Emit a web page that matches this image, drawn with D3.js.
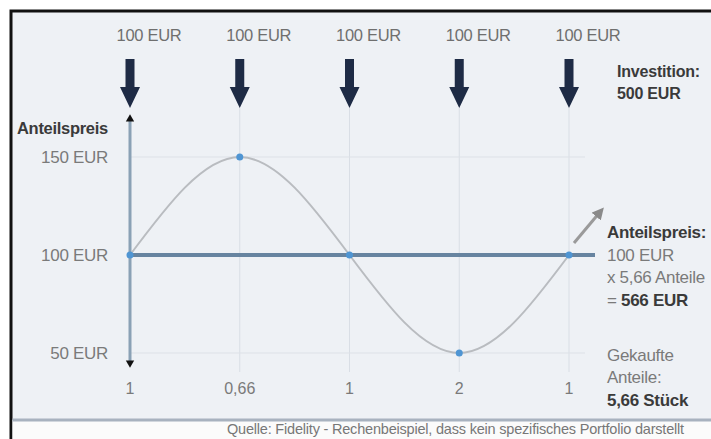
<!DOCTYPE html>
<html>
<head>
<meta charset="utf-8">
<script src="https://cdn.jsdelivr.net/npm/d3@7"></script>
<style>
  body { margin: 0; background: #fff; }
  text { font-family: 'Liberation Sans', Arial, sans-serif; }
</style>
</head>
<body>
<div id="chart"></div>
<script>
// data
const steps = [0, 1, 2, 3, 4];
const prices = [100, 150, 100, 50, 100];
const shares = ['1', '0,66', '1', '2', '1'];
const investLabels = ['100 EUR', '100 EUR', '100 EUR', '100 EUR', '100 EUR'];
const yTicks = [50, 100, 150];
const avgPrice = 100;

CostChart = function(_parentElement){
  this.parentElement = _parentElement;

  this.initVis();
};

CostChart.prototype.initVis = function(){
  let vis = this;

  vis.svg = d3.select(vis.parentElement)
    .append('svg')
    .attr('width', 711)
    .attr('height', 439);

  // panel background + frame
  vis.svg.append('rect')
    .attr('x', 11).attr('y', 11)
    .attr('width', 720).attr('height', 440)
    .attr('fill', '#eef1f5')
    .attr('stroke', '#111')
    .attr('stroke-width', 3);

  vis.svg.append('rect')
    .attr('x', 12.5).attr('y', 420)
    .attr('width', 720).attr('height', 30)
    .attr('fill', '#fbfbfb');

  vis.svg.append('line')
    .attr('x1', 12.5).attr('x2', 711)
    .attr('y1', 420).attr('y2', 420)
    .attr('stroke', '#a8b2bf')
    .attr('stroke-width', 3);

  vis.x = d3.scalePoint()
    .domain(steps)
    .range([130, 569]);

  vis.y = d3.scaleLinear()
    .domain([50, 150])
    .range([353, 157]);

  // vertical grid
  vis.svg.selectAll('.vgrid')
    .data(steps.slice(1))
    .enter()
    .append('line')
    .attr('class', 'vgrid')
    .attr('x1', d => vis.x(d)).attr('x2', d => vis.x(d))
    .attr('y1', 108).attr('y2', 372)
    .attr('stroke', '#d9dee5')
    .attr('stroke-width', 1);

  // horizontal grid
  vis.svg.selectAll('.hgrid')
    .data([50, 150])
    .enter()
    .append('line')
    .attr('class', 'hgrid')
    .attr('x1', 130).attr('x2', 585)
    .attr('y1', d => vis.y(d)).attr('y2', d => vis.y(d))
    .attr('stroke', '#dde1e7')
    .attr('stroke-width', 1);

  // y axis line with arrow tips
  vis.svg.append('line')
    .attr('x1', vis.x(0)).attr('x2', vis.x(0))
    .attr('y1', 120).attr('y2', 362)
    .attr('stroke', '#8aa1b5')
    .attr('stroke-width', 3);

  vis.svg.append('path')
    .attr('d', d3.symbol().type(d3.symbolTriangle).size(30)())
    .attr('transform', 'translate(' + vis.x(0) + ',119)')
    .attr('fill', '#111');

  vis.svg.append('path')
    .attr('d', d3.symbol().type(d3.symbolTriangle).size(30)())
    .attr('transform', 'translate(' + vis.x(0) + ',363) rotate(180)')
    .attr('fill', '#111');

  // average price line
  vis.svg.append('line')
    .attr('x1', vis.x(0)).attr('x2', 595)
    .attr('y1', vis.y(avgPrice)).attr('y2', vis.y(avgPrice))
    .attr('stroke', '#6784a0')
    .attr('stroke-width', 4);

  // price curve
  vis.line = d3.line()
    .x((d, i) => vis.x(steps[i]))
    .y(d => vis.y(d))
    .curve(d3.curveNatural);

  vis.svg.append('path')
    .datum(prices)
    .attr('d', vis.line)
    .attr('fill', 'none')
    .attr('stroke', '#b9bcc0')
    .attr('stroke-width', 2);

  vis.svg.selectAll('.dot')
    .data(prices)
    .enter()
    .append('circle')
    .attr('class', 'dot')
    .attr('cx', (d, i) => vis.x(steps[i]))
    .attr('cy', d => vis.y(d))
    .attr('r', 3.5)
    .attr('fill', '#4f95d3');

  // y tick labels
  vis.svg.selectAll('.ytick')
    .data(yTicks)
    .enter()
    .append('text')
    .attr('class', 'ytick')
    .attr('x', 108)
    .attr('y', d => vis.y(d) + 6)
    .attr('text-anchor', 'end')
    .attr('font-size', '17px')
    .attr('letter-spacing', '-0.3px')
    .attr('fill', '#7a7a7a')
    .text(d => d + ' EUR');

  vis.svg.append('text')
    .attr('x', 17).attr('y', 134)
    .attr('font-size', '16.5px')
    .attr('font-weight', 'bold')
    .attr('letter-spacing', '-0.3px')
    .attr('fill', '#3a3a3a')
    .text('Anteilspreis');

  // shares bought
  vis.svg.selectAll('.xtick')
    .data(shares)
    .enter()
    .append('text')
    .attr('class', 'xtick')
    .attr('x', (d, i) => vis.x(steps[i]))
    .attr('y', 394)
    .attr('text-anchor', 'middle')
    .attr('font-size', '16px')
    .attr('fill', '#7a7a7a')
    .text(d => d);

  // investments
  vis.svg.selectAll('.invest')
    .data(investLabels)
    .enter()
    .append('text')
    .attr('class', 'invest')
    .attr('x', (d, i) => vis.x(steps[i]) + 19)
    .attr('y', 41)
    .attr('text-anchor', 'middle')
    .attr('font-size', '16.5px')
    .attr('letter-spacing', '-0.3px')
    .attr('fill', '#6f6f6f')
    .text(d => d);

  vis.svg.selectAll('.arrow')
    .data(steps)
    .enter()
    .append('path')
    .attr('class', 'arrow')
    .attr('transform', d => 'translate(' + vis.x(d) + ',0)')
    .attr('d', 'M-4.5,59 L4.5,59 L4.5,87 L10,87 L0,108 L-10,87 L-4.5,87 Z')
    .attr('fill', '#1e2b45');

  vis.svg.append('text')
    .attr('x', 617).attr('y', 77)
    .attr('font-size', '16px')
    .attr('font-weight', 'bold')
    .attr('letter-spacing', '-0.2px')
    .attr('fill', '#3a3a3a')
    .text('Investition:');

  vis.svg.append('text')
    .attr('x', 617).attr('y', 99)
    .attr('font-size', '16px')
    .attr('font-weight', 'bold')
    .attr('letter-spacing', '-0.2px')
    .attr('fill', '#3a3a3a')
    .text('500 EUR');

  // rising arrow
  vis.svg.append('defs').append('marker')
    .attr('id', 'tip')
    .attr('viewBox', '0 0 10 10')
    .attr('refX', 5).attr('refY', 5)
    .attr('markerWidth', 4).attr('markerHeight', 4)
    .attr('orient', 'auto')
    .append('path')
    .attr('d', 'M0,0 L10,5 L0,10 Z')
    .attr('fill', '#8a8a8a');

  vis.svg.append('line')
    .attr('x1', 574).attr('y1', 243)
    .attr('x2', 600).attr('y2', 212)
    .attr('stroke', '#9a9a9a')
    .attr('stroke-width', 3)
    .attr('marker-end', 'url(#tip)');

  // right annotations
  let notes = [
    { y: 238, parts: [{ t: 'Anteilspreis:', b: true }] },
    { y: 261, parts: [{ t: '100 EUR', b: false }] },
    { y: 283, parts: [{ t: 'x 5,66 Anteile', b: false }] },
    { y: 306, parts: [{ t: '= ', b: false }, { t: '566 EUR', b: true }] },
    { y: 361, parts: [{ t: 'Gekaufte', b: false }] },
    { y: 383, parts: [{ t: 'Anteile:', b: false }] },
    { y: 406, parts: [{ t: '5,66 Stück', b: true }] }
  ];

  notes.forEach(function(n){
    let t = vis.svg.append('text')
      .attr('x', 607).attr('y', n.y)
      .attr('font-size', '17px')
      .attr('letter-spacing', '-0.3px');
    n.parts.forEach(function(p){
      t.append('tspan')
        .attr('font-weight', p.b ? 'bold' : 'normal')
        .attr('fill', p.b ? '#3a3a3a' : '#7a7a7a')
        .text(p.t);
    });
  });

  vis.svg.append('text')
    .attr('x', 227).attr('y', 434)
    .attr('font-size', '14.5px')
    .attr('letter-spacing', '-0.2px')
    .attr('fill', '#777')
    .text('Quelle: Fidelity - Rechenbeispiel, dass kein spezifisches Portfolio darstellt');
};

new CostChart('#chart');
</script>
</body>
</html>
